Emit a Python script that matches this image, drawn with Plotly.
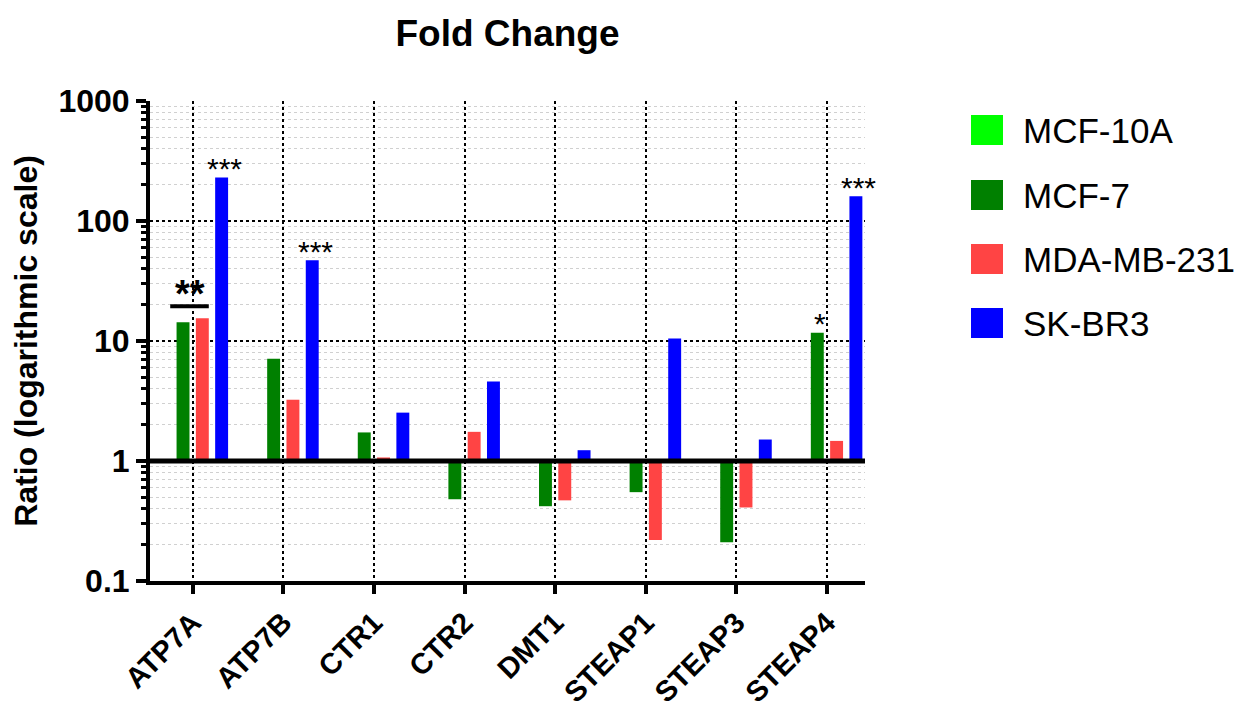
import math
import plotly.graph_objects as go

# ---------------- data ----------------
genes = ["ATP7A", "ATP7B", "CTR1", "CTR2", "DMT1", "STEAP1", "STEAP3", "STEAP4"]
series_names = ["MCF-10A", "MCF-7", "MDA-MB-231", "SK-BR3"]
mcf10a = [1, 1, 1, 1, 1, 1, 1, 1]
mcf7 = [14.3, 7.1, 1.73, 0.48, 0.42, 0.55, 0.21, 11.7]
mda_mb_231 = [15.5, 3.24, 1.07, 1.75, 0.47, 0.22, 0.41, 1.47]
sk_br3 = [230, 47, 2.53, 4.6, 1.23, 10.5, 1.51, 161]
colors = ["#00ff00", "#008000", "#ff4444", "#0000ff"]

y_tickvals = [0.1, 1, 10, 100, 1000]
y_ticktext = ["0.1", "1", "10", "100", "1000"]

# significance marks: (gene, series index, text)
sig_marks = [("ATP7A", 3, "***"), ("ATP7B", 3, "***"), ("STEAP4", 1, "*"), ("STEAP4", 3, "***")]
# bracket: (gene, first series, last series, text)
sig_brackets = [("ATP7A", 1, 2, "**")]

all_series = [mcf10a, mcf7, mda_mb_231, sk_br3]

# ---------------- layout constants ----------------
W, H = 1253, 715
ML, MR, MT, MB = 150, 388, 101, 134
PW, PH = W - ML - MR, H - MT - MB
BARGAP, BARGROUPGAP = 0.148, 0.33
NS = len(series_names)
SLOT = (1 - BARGAP) / NS
HALFW = SLOT * (1 - BARGROUPGAP) / 2
PX_PER_DEC = PH / 4.0
FONT = "Arial, Liberation Sans, sans-serif"


def offset(j):
    return (j - (NS - 1) / 2) * SLOT


fig = go.Figure()
for name, vals, col in zip(series_names, all_series, colors):
    fig.add_trace(go.Bar(
        name=name, x=genes, y=[v - 1 for v in vals], base=[1] * len(vals),
        marker=dict(color=col, line=dict(width=0)),
        customdata=vals, hovertemplate="%{x}: %{customdata}<extra>" + name + "</extra>",
        showlegend=False,
    ))

shapes = []
annotations = []

# baseline at ratio = 1
shapes.append(dict(type="line", xref="paper", yref="y", x0=0, x1=1, y0=1, y1=1,
                   line=dict(color="black", width=5), layer="above"))

# significance stars above single bars
for gene, j, txt in sig_marks:
    i = genes.index(gene)
    v = all_series[j][i]
    annotations.append(dict(x=i + offset(j), y=math.log10(v), xref="x", yref="y",
                            text=txt, showarrow=False, yanchor="middle", xshift=3,
                            yshift=9, font=dict(family=FONT, size=30, color="black")))

# bracket with stars
for gene, j0, j1, txt in sig_brackets:
    i = genes.index(gene)
    top = max(all_series[j0][i], all_series[j1][i])
    yl = top * 10 ** (12 / PX_PER_DEC)
    x0 = i + offset(j0) - HALFW - 0.07
    x1 = i + offset(j1) + HALFW
    shapes.append(dict(type="line", xref="x", yref="y", x0=x0, x1=x1, y0=yl, y1=yl,
                       line=dict(color="black", width=4)))
    annotations.append(dict(x=(x0 + x1) / 2, y=math.log10(yl), xref="x", yref="y", text=txt,
                            showarrow=False, yanchor="middle", yshift=12,
                            font=dict(family=FONT, size=38, color="black", weight="bold")))

# manual legend (large swatches)
def px2x(px):
    return (px - ML) / PW


def py2y(py):
    return (H - MB - py) / PH


legend_centers = [130, 195, 259, 323]
for name, col, cy in zip(series_names, colors, legend_centers):
    shapes.append(dict(type="rect", xref="paper", yref="paper",
                       x0=px2x(971), x1=px2x(1003), y0=py2y(cy + 15), y1=py2y(cy - 15),
                       fillcolor=col, line=dict(width=0)))
    annotations.append(dict(x=px2x(1021), y=py2y(cy), xref="paper", yref="paper",
                            text=name, showarrow=False, xanchor="left", yanchor="middle",
                            font=dict(family=FONT, size=35, color="black")))

minor_vals = [k * 10 ** e for e in range(-1, 3) for k in range(2, 10)]

fig.update_layout(
    width=W, height=H,
    margin=dict(l=ML, r=MR, t=MT, b=MB, autoexpand=False),
    barmode="group", bargap=BARGAP, bargroupgap=BARGROUPGAP,
    plot_bgcolor="white", paper_bgcolor="white",
    showlegend=False,
    font=dict(family=FONT, color="black"),
    title=dict(text="Fold Change", x=0.5, xref="paper", xanchor="center",
               y=1 - 33 / H, yanchor="middle",
               font=dict(family=FONT, size=37, color="black", weight="bold")),
    shapes=shapes, annotations=annotations,
    xaxis=dict(
        type="category", range=[-0.471, 7.42], automargin=False,
        showline=True, linecolor="black", linewidth=4,
        ticks="outside", ticklen=9, tickwidth=4, tickcolor="black",
        tickangle=-45, tickfont=dict(family=FONT, size=29, color="black", weight="bold"),
        showgrid=True, gridcolor="black", griddash="dot", gridwidth=1.5,
        zeroline=False,
    ),
    yaxis=dict(
        type="log", range=[-1, 3], automargin=False,
        tickmode="array", tickvals=y_tickvals, ticktext=y_ticktext,
        showline=True, linecolor="black", linewidth=4,
        ticks="outside", ticklen=10, tickwidth=4, tickcolor="black",
        tickfont=dict(family=FONT, size=32, color="black", weight="bold"),
        showgrid=True, gridcolor="black", griddash="dot", gridwidth=1.5,
        zeroline=False,
        minor=dict(tickmode="array", tickvals=minor_vals, ticks="outside", ticklen=5,
                   tickwidth=3, tickcolor="black", showgrid=True,
                   gridcolor="#d0d0d0", griddash="dot", gridwidth=1),
        title=dict(text="Ratio (logarithmic scale)", standoff=12,
                   font=dict(family=FONT, size=32, color="black", weight="bold")),
    ),
)

fig.write_html("out.html")
